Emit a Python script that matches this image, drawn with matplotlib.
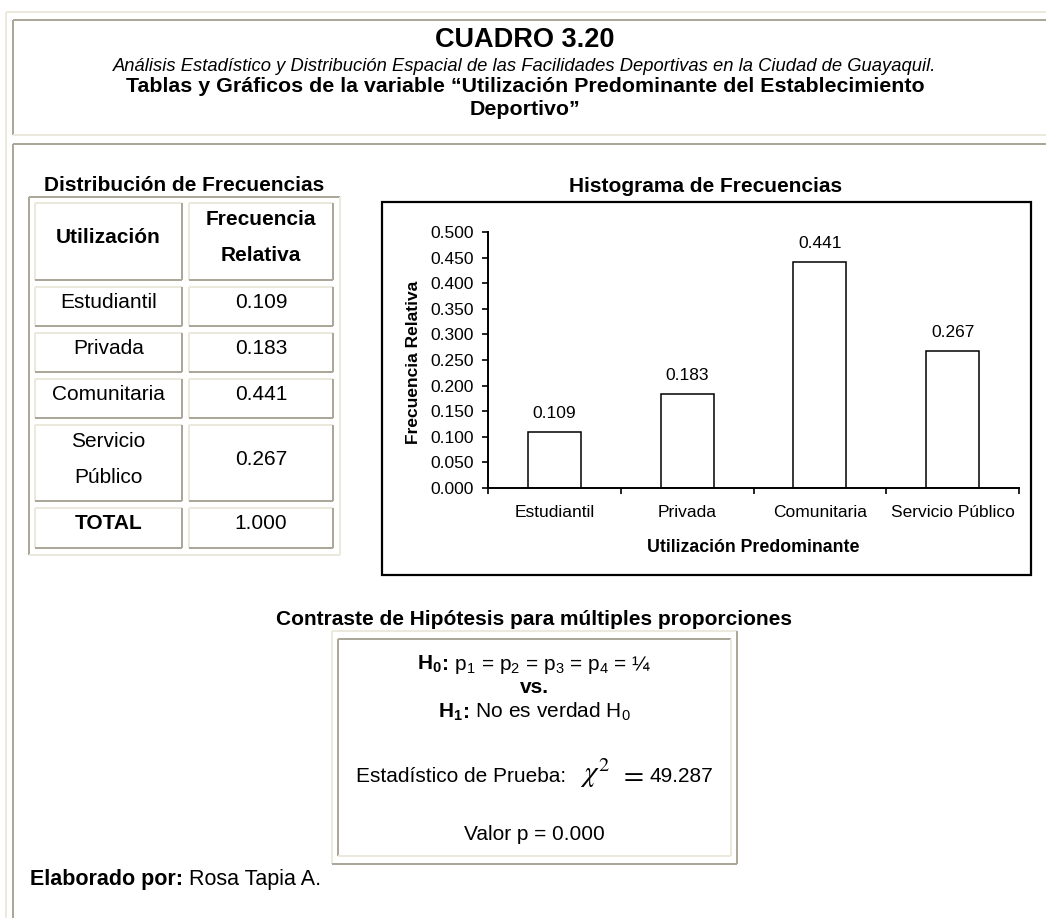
import matplotlib
matplotlib.use("Agg")
import matplotlib.pyplot as plt
from matplotlib.patches import Rectangle

# datos
categorias = ["Estudiantil", "Privada", "Comunitaria", "Servicio Público"]
filas_tabla = ["Estudiantil", "Privada", "Comunitaria", "Servicio\nPúblico"]
frecuencias = [0.109, 0.183, 0.441, 0.267]
total = 1.000
y_ticks = [0.0, 0.05, 0.1, 0.15, 0.2, 0.25, 0.3, 0.35, 0.4, 0.45, 0.5]
chi2 = 49.287
valor_p = 0.000

plt.rcParams['font.family'] = ['Liberation Sans', 'DejaVu Sans']
plt.rcParams['mathtext.fontset'] = 'custom'
plt.rcParams['mathtext.rm'] = 'Liberation Sans'
plt.rcParams['mathtext.bf'] = 'Liberation Sans:bold'
plt.rcParams['mathtext.it'] = 'Liberation Sans:italic'

W, H = 1046, 918
GRIS = '#aca899'
CLARO = '#ebe9dc'
LW = 1.44  # 2 px

fig = plt.figure(figsize=(W / 100, H / 100), dpi=100)
bg = fig.add_axes([0, 0, 1, 1])
bg.set_xlim(0, W); bg.set_ylim(H, 0); bg.axis('off')
rend = fig.canvas.get_renderer()


def hline(y, x0, x1, c):
    bg.plot([x0, x1], [y, y], color=c, lw=LW, solid_capstyle='butt')


def vline(x, y0, y1, c):
    bg.plot([x, x], [y0, y1], color=c, lw=LW, solid_capstyle='butt')


def caja(x0, y0, x1, y1, tl, br):
    hline(y0, x0, x1, tl); vline(x0, y0, y1, tl)
    hline(y1, x0, x1, br); vline(x1, y0, y1, br)


def linea(partes, y, x=None, cx=None, size=15):
    # trozos de texto seguidos (negrita / normal) en la misma linea base
    arts = [bg.text(0, y, t, fontsize=size, ha='left', va='baseline', **kw) for t, kw in partes]
    anchos = [a.get_window_extent(renderer=rend).width for a in arts]
    x0 = x if x is not None else cx - sum(anchos) / 2
    for a, w in zip(arts, anchos):
        a.set_x(x0)
        x0 += w


# bordes de pagina
hline(12, 6, W, CLARO); vline(6, 12, H, CLARO)
hline(20, 13, W, GRIS); vline(13, 20, 135, GRIS); hline(135, 13, W, CLARO)
hline(144, 13, W, GRIS); vline(13, 144, H, GRIS)

# encabezado
cx = 525
bg.text(cx, 47, "CUADRO 3.20", fontsize=19.5, fontweight='bold', ha='center', va='baseline')
bg.text(cx, 71, "Análisis Estadístico y Distribución Espacial de las Facilidades Deportivas en la Ciudad de Guayaquil.",
        fontsize=13.2, style='italic', ha='center', va='baseline')
bg.text(cx, 92, "Tablas y Gráficos de la variable “Utilización Predominante del Establecimiento",
        fontsize=15.4, fontweight='bold', ha='center', va='baseline')
bg.text(cx, 115, "Deportivo”", fontsize=15.4, fontweight='bold', ha='center', va='baseline')

# tabla de frecuencias
bg.text(184, 191, "Distribución de Frecuencias", fontsize=15, fontweight='bold', ha='center', va='baseline')
caja(29, 197, 340, 555, GRIS, CLARO)
cols = [(35, 182), (189, 333)]
rows = [(203, 280), (287, 326), (333, 372), (379, 418), (425, 501), (508, 548)]
for (y0, y1) in rows:
    for (x0, x1) in cols:
        caja(x0, y0, x1, y1, CLARO, GRIS)
c1 = (cols[0][0] + cols[0][1]) / 2
c2 = (cols[1][0] + cols[1][1]) / 2
bg.text(c1, 243, "Utilización", fontsize=15, fontweight='bold', ha='center', va='baseline')
bg.text(c2, 225, "Frecuencia", fontsize=15, fontweight='bold', ha='center', va='baseline')
bg.text(c2, 261, "Relativa", fontsize=15, fontweight='bold', ha='center', va='baseline')
base_val = [308, 354, 400, 465]
for nombre, val, yb in zip(filas_tabla, frecuencias, base_val):
    partes = nombre.split("\n")
    if len(partes) == 1:
        bg.text(c1, yb, nombre, fontsize=15, ha='center', va='baseline')
    else:
        for k, p in enumerate(partes):
            bg.text(c1, yb - 18 + 36 * k, p, fontsize=15, ha='center', va='baseline')
    bg.text(c2, yb, f"{val:.3f}", fontsize=15, ha='center', va='baseline')
bg.text(c1, 529, "TOTAL", fontsize=15, fontweight='bold', ha='center', va='baseline')
bg.text(c2, 529, f"{total:.3f}", fontsize=15, ha='center', va='baseline')

# histograma
bg.text(706, 192, "Histograma de Frecuencias", fontsize=15, fontweight='bold', ha='center', va='baseline')
bg.add_patch(Rectangle((382, 202), 649, 373, fill=False, edgecolor='black', lw=1.6))
ax = fig.add_axes([488 / W, 1 - 488 / H, 531 / W, 256 / H])
ax.patch.set_alpha(0)
x = list(range(len(categorias)))
ax.bar(x, frecuencias, width=0.4, color='white', edgecolor='black', lw=1.1)
ax.set_xlim(-0.5, len(categorias) - 0.5)
ax.set_ylim(0, 0.5)
ax.set_yticks(y_ticks)
ax.set_yticklabels([f"{v:.3f}" for v in y_ticks], fontsize=12.5)
ax.set_xticks([i - 0.5 for i in range(len(categorias) + 1)])
ax.set_xticklabels([])
ax.set_xticks(x, minor=True)
ax.set_xticklabels(categorias, minor=True, fontsize=12.5)
ax.tick_params(axis='x', which='minor', length=0, pad=12)
ax.tick_params(axis='both', which='major', direction='out', length=4.5, width=1.2, pad=5.5)
for s in ['top', 'right']:
    ax.spines[s].set_visible(False)
for s in ['left', 'bottom']:
    ax.spines[s].set_linewidth(1.4)
for xi, v in zip(x, frecuencias):
    ax.annotate(f"{v:.3f}", (xi, v), xytext=(0, 13.5), textcoords='offset points',
                ha='center', va='center', fontsize=12.5)
bg.text(413, 362, "Frecuencia Relativa", fontsize=12.5, fontweight='bold', rotation=90,
        ha='center', va='center')
bg.text(753, 552, "Utilización Predominante", fontsize=12.8, fontweight='bold', ha='center', va='baseline')

# contraste de hipotesis
hx = 534.5
bg.text(hx, 625, "Contraste de Hipótesis para múltiples proporciones", fontsize=15, fontweight='bold',
        ha='center', va='baseline')
caja(332, 631, 737, 864, CLARO, GRIS)
caja(338, 639, 731, 856, GRIS, CLARO)
linea([(r"$\mathbf{H_0}$", {}), (":", dict(fontweight='bold')),
       (r" p$_1$ = p$_2$ = p$_3$ = p$_4$ = ¼", {})], 670, cx=hx)
bg.text(hx, 693, "vs.", fontsize=15, fontweight='bold', ha='center', va='baseline')
linea([(r"$\mathbf{H_1}$", {}), (":", dict(fontweight='bold')),
       (r" No es verdad H$_0$", {})], 718, cx=hx)
bg.text(356, 782, "Estadístico de Prueba:", fontsize=15, ha='left', va='baseline')
bg.text(580, 782, r"$\chi^2$", fontsize=21, ha='left', va='baseline', math_fontfamily='stix')
bg.text(619, 782, r"$=$", fontsize=21, ha='left', va='baseline', math_fontfamily='stix')
bg.text(650, 782, f"{chi2:.3f}", fontsize=15, ha='left', va='baseline')
bg.text(hx, 840, f"Valor p = {valor_p:.3f}", fontsize=15, ha='center', va='baseline')

# pie
linea([("Elaborado por:", dict(fontweight='bold')), (" Rosa Tapia A.", {})], 885, x=30, size=15.5)

fig.savefig("out.png", dpi=100, facecolor='white')
